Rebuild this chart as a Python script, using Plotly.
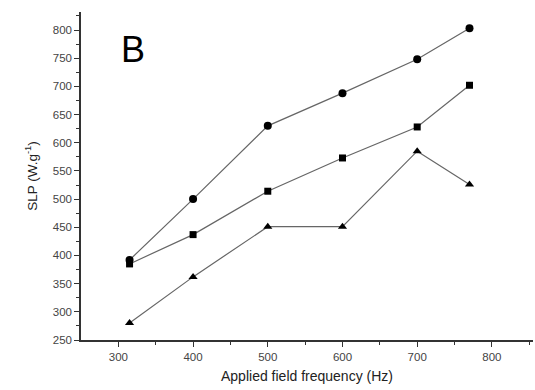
import plotly.graph_objects as go

freq = [315, 400, 500, 600, 700, 770]
slp_circle = [392, 500, 630, 688, 748, 803]
slp_square = [385, 437, 514, 573, 628, 702]
slp_triangle = [280, 362, 451, 451, 585, 526]

fig = go.Figure()
for ys, sym in [(slp_circle, "circle"), (slp_square, "square"), (slp_triangle, "triangle-up")]:
    fig.add_trace(go.Scatter(
        x=freq, y=ys, mode="lines+markers",
        line=dict(color="#666666", width=1.2),
        marker=dict(symbol=sym, color="black", size=8 if sym != "square" else 7),
        showlegend=False,
    ))

fig.add_annotation(text="B", xref="paper", yref="paper", x=0.083, y=0.885,
                   xanchor="left", yanchor="middle", showarrow=False,
                   font=dict(family="Liberation Sans, Arial", size=36, color="black"))

axis_font = dict(family="Liberation Sans, Arial", size=11.5, color="#444444")
fig.update_xaxes(range=[250, 855], tickvals=[300, 400, 500, 600, 700, 800],
                 showline=True, linecolor="#333333", linewidth=1.5, showgrid=False,
                 zeroline=False, ticks="outside", ticklen=5, tickcolor="#333333",
                 minor=dict(tickvals=[350, 450, 550, 650, 750, 850], ticks="outside", ticklen=3, tickcolor="#333333"),
                 tickfont=axis_font,
                 title=dict(text="Applied field frequency (Hz)", standoff=10,
                            font=dict(family="Liberation Sans, Arial", size=14, color="#222222")))
fig.update_yaxes(range=[250, 832], tickvals=list(range(250, 801, 50)),
                 showline=True, linecolor="#333333", linewidth=1.5, showgrid=False,
                 zeroline=False, ticks="outside", ticklen=5, tickcolor="#333333",
                 minor=dict(tickvals=list(range(275, 830, 50)), ticks="outside", ticklen=3, tickcolor="#333333"),
                 tickfont=axis_font,
                 title=dict(text="SLP (W.g<sup>-1</sup>)", standoff=12,
                            font=dict(family="Liberation Sans, Arial", size=13.5, color="#222222")))

fig.update_layout(width=535, height=390, margin=dict(l=81, r=2, t=12, b=50),
                  plot_bgcolor="white", paper_bgcolor="white")
fig.write_html("out.html")
